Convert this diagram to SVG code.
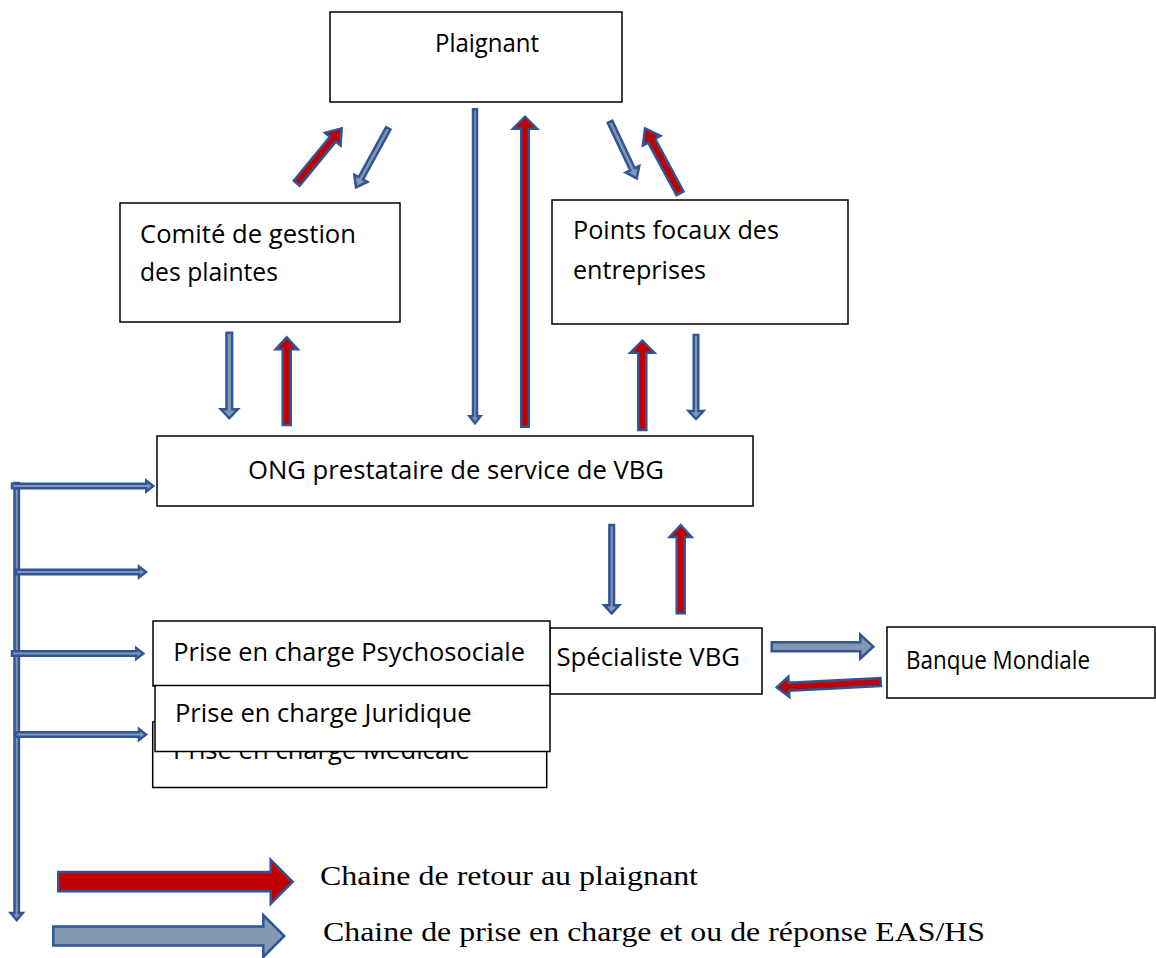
<svg xmlns="http://www.w3.org/2000/svg" width="1156" height="958" viewBox="0 0 1156 958">
<style>
.box{fill:#fff;stroke:#000;stroke-width:1.5}
.t{font-family:"Open Sans","Noto Sans",sans-serif;font-size:25px;fill:#000}
.lg{font-family:"Liberation Serif","Times New Roman",serif;font-size:28px;fill:#000}
.red{fill:#C00000;stroke:#2F5597;stroke-width:2.5;stroke-linejoin:miter}
.blue{fill:#8497B0;stroke:#2F5597;stroke-width:2.5;stroke-linejoin:miter}
</style>
<rect width="1156" height="958" fill="#fff"/>

<g id="connectors">
  <path class="red" transform="translate(296.7,183.3) rotate(-50.7)" d="M0,-3.8 L57,-3.8 L57,-10 L71,0 L57,10 L57,3.8 L0,3.8 Z"/>
  <path class="blue" transform="translate(388.3,128.3) rotate(118.7)" d="M0,-2.5 L57,-2.5 L57,-7.5 L67.3,0 L57,7.5 L57,2.5 L0,2.5 Z"/>
  <path class="blue" transform="translate(610,121.7) rotate(64.7)" d="M0,-2.5 L52.6,-2.5 L52.6,-7.5 L62.6,0 L52.6,7.5 L52.6,2.5 L0,2.5 Z"/>
  <path class="red" transform="translate(680,193.3) rotate(-118.3)" d="M0,-4 L59.8,-4 L59.8,-10 L73.8,0 L59.8,10 L59.8,4 L0,4 Z"/>
  <path class="blue" transform="translate(229.3,332.7) rotate(90)" d="M0,-2.8 L76.6,-2.8 L76.6,-8.5 L85.6,0 L76.6,8.5 L76.6,2.8 L0,2.8 Z"/>
  <path class="red" transform="translate(286.7,425) rotate(-90)" d="M0,-4 L75.7,-4 L75.7,-11 L87.7,0 L75.7,11 L75.7,4 L0,4 Z"/>
  <path class="blue" transform="translate(475,109.3) rotate(90)" d="M0,-2 L307,-2 L307,-5.5 L314,0 L307,5.5 L307,2 L0,2 Z"/>
  <path class="red" transform="translate(525,426.7) rotate(-90)" d="M0,-3.8 L298,-3.8 L298,-12 L310,0 L298,12 L298,3.8 L0,3.8 Z"/>
  <path class="red" transform="translate(642.3,430) rotate(-90)" d="M0,-4 L77.3,-4 L77.3,-12 L89.3,0 L77.3,12 L77.3,4 L0,4 Z"/>
  <path class="blue" transform="translate(696,335) rotate(90)" d="M0,-2.3 L76,-2.3 L76,-7.5 L84,0 L76,7.5 L76,2.3 L0,2.3 Z"/>
  <path class="blue" transform="translate(611.7,525) rotate(90)" d="M0,-2.3 L80.3,-2.3 L80.3,-7.5 L88.3,0 L80.3,7.5 L80.3,2.3 L0,2.3 Z"/>
  <path class="red" transform="translate(680.7,613.3) rotate(-90)" d="M0,-4 L76.3,-4 L76.3,-11 L88.3,0 L76.3,11 L76.3,4 L0,4 Z"/>
  <path class="blue" transform="translate(771.7,646.7)" d="M0,-4.5 L88.6,-4.5 L88.6,-12 L101.6,0 L88.6,12 L88.6,4.5 L0,4.5 Z"/>
  <path class="red" transform="translate(880.7,682) rotate(177)" d="M0,-4 L92,-4 L92,-10 L104.1,0 L92,10 L92,4 L0,4 Z"/>
  <path class="blue" transform="translate(16.7,483) rotate(90)" d="M0,-2.2 L430,-2.2 L430,-6 L437,0 L430,6 L430,2.2 L0,2.2 Z"/>
  <path class="blue" d="M12,483.8 L146.3,483.8 L146.3,480.5 L153.3,486 L146.3,491.5 L146.3,488.2 L12,488.2 Z"/>
  <path class="blue" d="M16,569.8 L139,569.8 L139,566.5 L146,572 L139,577.5 L139,574.2 L16,574.2 Z"/>
  <path class="blue" d="M12,651.3 L136.3,651.3 L136.3,648 L143.3,653.5 L136.3,659 L136.3,655.7 L12,655.7 Z"/>
  <path class="blue" d="M16,732.3 L139,732.3 L139,729 L146,734.5 L139,740 L139,736.7 L16,736.7 Z"/>
  <path class="red" d="M58.3,872.1 L270.7,872.1 L270.7,859.7 L292.7,881.7 L270.7,903.7 L270.7,891.3 L58.3,891.3 Z"/>
  <path class="blue" d="M53.3,926.4 L263.3,926.4 L263.3,915 L284.3,936 L263.3,957 L263.3,945.6 L53.3,945.6 Z"/>
</g>

<g id="plaignant">
  <rect class="box" x="330" y="12" width="292" height="90"/>
  <text class="t" x="435" y="51.5" textLength="104" lengthAdjust="spacingAndGlyphs">Plaignant</text>
</g>
<g id="comite">
  <rect class="box" x="120" y="203" width="280" height="119"/>
  <text class="t" x="140" y="242.5" textLength="216" lengthAdjust="spacingAndGlyphs">Comité de gestion</text>
  <text class="t" x="140" y="280.5" textLength="138" lengthAdjust="spacingAndGlyphs">des plaintes</text>
</g>
<g id="points-focaux">
  <rect class="box" x="552" y="200" width="296" height="124"/>
  <text class="t" x="573" y="238.5" textLength="206" lengthAdjust="spacingAndGlyphs">Points focaux des</text>
  <text class="t" x="573" y="278.5" textLength="133" lengthAdjust="spacingAndGlyphs">entreprises</text>
</g>
<g id="ong">
  <rect class="box" x="157" y="436" width="596" height="70"/>
  <text class="t" x="248" y="478.5" textLength="416" lengthAdjust="spacingAndGlyphs">ONG prestataire de service de VBG</text>
</g>
<g id="specialiste">
  <rect class="box" x="550" y="628" width="212" height="66"/>
  <text class="t" x="556.5" y="665.5" textLength="183.5" lengthAdjust="spacingAndGlyphs">Spécialiste VBG</text>
</g>
<g id="banque">
  <rect class="box" x="887" y="627" width="268" height="71"/>
  <text class="t" x="906" y="668.5" textLength="184" lengthAdjust="spacingAndGlyphs">Banque Mondiale</text>
</g>
<g id="medicale">
  <rect class="box" x="152.7" y="722" width="394" height="65.5"/>
  <text class="t" x="173" y="758.5" textLength="297" lengthAdjust="spacingAndGlyphs">Prise en charge Médicale</text>
</g>
<g id="psychosociale">
  <rect class="box" x="153" y="621" width="397" height="65"/>
  <text class="t" x="173.3" y="660.5" textLength="351.7" lengthAdjust="spacingAndGlyphs">Prise en charge Psychosociale</text>
</g>
<g id="juridique">
  <rect class="box" x="155" y="685.5" width="395" height="66"/>
  <text class="t" x="175" y="722" textLength="296.7" lengthAdjust="spacingAndGlyphs">Prise en charge Juridique</text>
</g>
<g id="legende">
  <text class="lg" x="320" y="885" textLength="378" lengthAdjust="spacingAndGlyphs">Chaine de retour au plaignant</text>
  <text class="lg" x="323" y="941" textLength="662" lengthAdjust="spacingAndGlyphs">Chaine de prise en charge et ou de réponse EAS/HS</text>
</g>
</svg>
